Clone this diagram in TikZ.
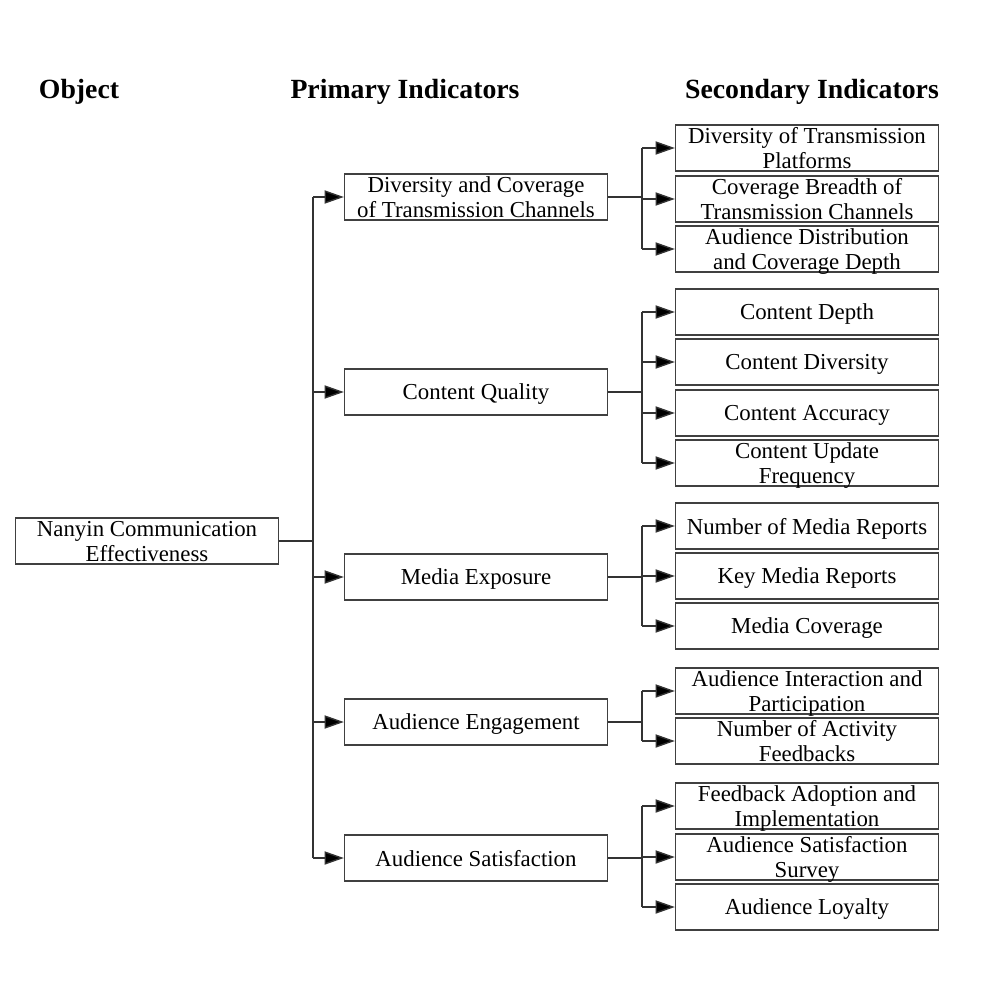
\documentclass[tikz,border=0pt]{standalone}
\usepackage{fontspec}
\setmainfont{Liberation Serif}
\usetikzlibrary{arrows.meta}
\begin{document}
\begin{tikzpicture}[x=0.02cm,y=-0.02cm,
  box/.style={draw=black!75, line width=0.8pt, minimum width=5.26cm, minimum height=0.92cm,
    align=center, font=\fontsize{13}{14.2}\selectfont, inner sep=1pt, text depth=0pt},
  hdr/.style={font=\fontsize{15.8}{18}\selectfont\bfseries},
  conn/.style={draw=black!80, line width=0.8pt},
  arr/.style={conn, -{Triangle[length=11pt,width=7.5pt,fill=black]}}]
\useasboundingbox (0,0) rectangle (1000,1000);
% headers
\node[hdr] (h0) at (79,92) {Object};
\node[hdr] (h1) at (405,92) {Primary Indicators};
\node[hdr] (h2) at (812,92) {Secondary Indicators};
% object
\node[box] (obj) at (147,541) {Nanyin Communication\\Effectiveness};
% primary
\node[box] (p1) at (476,197) {Diversity and Coverage\\of Transmission Channels};
\node[box] (p2) at (476,392) {Content Quality};
\node[box] (p3) at (476,577) {Media Exposure};
\node[box] (p4) at (476,722) {Audience Engagement};
\node[box] (p5) at (476,858) {Audience Satisfaction};
% secondary
\node[box] (s1) at (807,148) {Diversity of Transmission\\Platforms};
\node[box] (s2) at (807,199) {Coverage Breadth of\\Transmission Channels};
\node[box] (s3) at (807,249) {Audience Distribution\\and Coverage Depth};
\node[box] (s4) at (807,312) {Content Depth};
\node[box] (s5) at (807,362) {Content Diversity};
\node[box] (s6) at (807,413) {Content Accuracy};
\node[box] (s7) at (807,463) {Content Update\\Frequency};
\node[box] (s8) at (807,526) {Number of Media Reports};
\node[box] (s9) at (807,576) {Key Media Reports};
\node[box] (s10) at (807,626) {Media Coverage};
\node[box] (s11) at (807,691) {Audience Interaction and\\Participation};
\node[box] (s12) at (807,741) {Number of Activity\\Feedbacks};
\node[box] (s13) at (807,806) {Feedback Adoption and\\Implementation};
\node[box] (s14) at (807,857) {Audience Satisfaction\\Survey};
\node[box] (s15) at (807,907) {Audience Loyalty};
% trunk
\coordinate (tr) at (313,541);
\coordinate (br) at (642,541);
\draw[conn] (obj.east) -- (tr);
\draw[conn] (tr |- p1) -- (tr |- p5);
\foreach \p in {p1,p2,p3,p4,p5} \draw[arr] (tr |- \p) -- (\p.west);
% branches
\foreach \p/\a/\b in {p1/s1/s3, p2/s4/s7, p3/s8/s10, p4/s11/s12, p5/s13/s15} {
  \draw[conn] (\p.east) -- (br |- \p);
  \draw[conn] (br |- \a) -- (br |- \b);
}
\foreach \s in {s1,s2,s3,s4,s5,s6,s7,s8,s9,s10,s11,s12,s13,s14,s15}
  \draw[arr] (br |- \s) -- (\s.west);
\end{tikzpicture}
\end{document}
